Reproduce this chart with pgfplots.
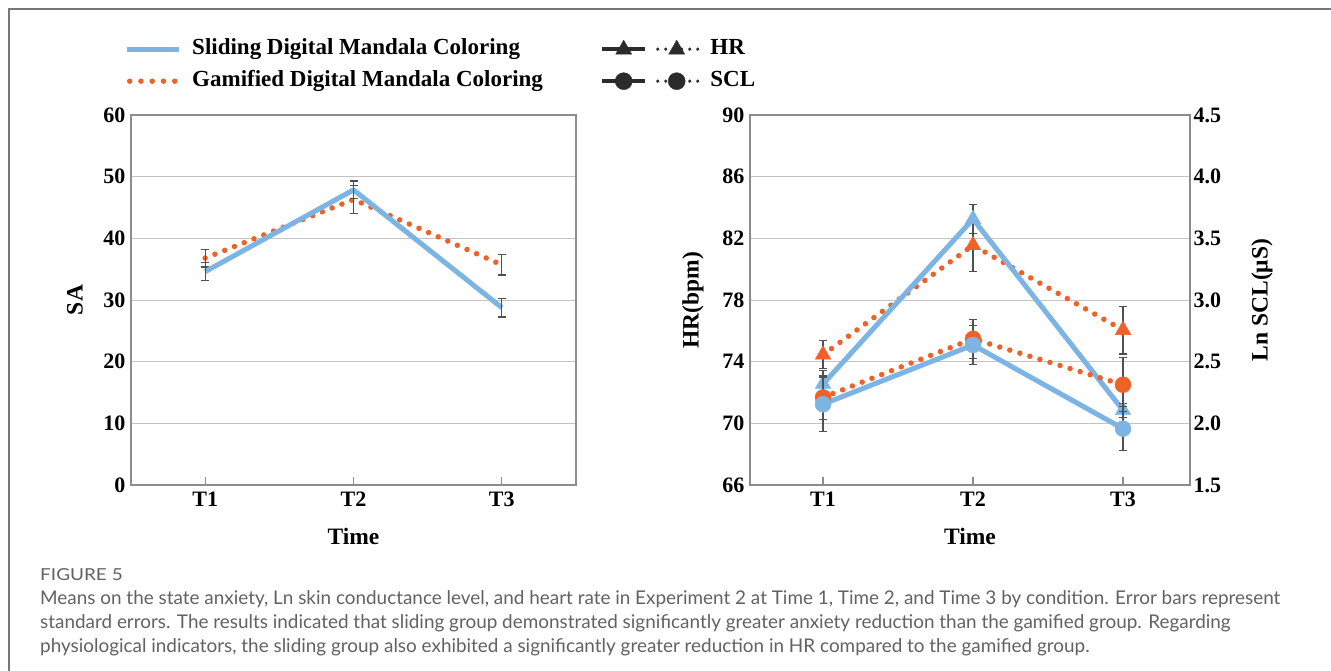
\documentclass[border=0pt]{standalone}
\usepackage{fontspec}
\setmainfont{Liberation Serif}
\newfontfamily\capfont{Lato}
\newfontfamily\figfont[FakeStretch=1.15]{Lato}
\usepackage{pgfplots}
\pgfplotsset{compat=1.18}
\definecolor{sblue}{HTML}{7CB5E4}
\definecolor{gorange}{HTML}{EE6128}
\definecolor{ebar}{HTML}{505050}
\definecolor{gridc}{HTML}{C4C4C4}
\definecolor{framec}{HTML}{8C8C8C}
\definecolor{legdark}{HTML}{2B2B2B}
\definecolor{capgray}{HTML}{626262}
\definecolor{borderc}{HTML}{76767C}

\pgfplotsset{
  mystyle/.style={
    scale only axis,
    xmin=0.5, xmax=3.5, xtick={1,2,3}, xticklabels={T1,T2,T3},
    axis line style={framec, line width=1.2pt},
    ymajorgrids, grid style={gridc, line width=1pt},
    xtick style={framec, line width=1.2pt},
    ytick style={draw=none},
    tick align=inside,
    major tick length=8pt,
    ticklabel style={font=\fontsize{22}{26}\selectfont\bfseries},
    xticklabel style={yshift=-3pt},
    label style={font=\fontsize{23.5}{28}\selectfont\bfseries},
    /pgf/number format/assume math mode=true,
  },
  sline/.style={sblue, line width=5pt, line join=round, mark=none},
  gline/.style={gorange, line width=5.5pt, line cap=round, line join=round, dash pattern=on 0pt off 10.5pt, mark=none},
  ebars/.style={
    /pgfplots/error bars/y dir=both,
    /pgfplots/error bars/y explicit,
    /pgfplots/error bars/error bar style={ebar, line width=1.2pt, solid, line cap=butt},
    /pgfplots/error bars/error mark options={ebar, rotate=90, mark size=4pt, line width=1.2pt, solid},
  },
}

\begin{document}
\begin{tikzpicture}
\path[use as bounding box] (0,0) rectangle (1331pt,-671pt);
\fill[white] (0,0) rectangle (1331pt,-671pt);
\draw[borderc, line width=2pt] (9pt,-671pt) -- (9pt,-9pt) -- (1331pt,-9pt);

% ---------------- Left: SA ----------------
\begin{axis}[mystyle, at={(131pt,-485pt)}, anchor=south west,
  width=445pt, height=370pt,
  ymin=0, ymax=60, ytick={0,10,...,60}, xtick pos=left,
  yticklabel style={xshift=-2pt},
  xlabel={Time}, ylabel={SA},
  xlabel style={at={(axis description cs:0.5,-0.1378)}, anchor=center},
  ylabel style={at={(axis description cs:-0.1258,0.5)}, anchor=center},
  legend columns=2,
  legend cell align=left,
  legend style={at={(axis description cs:-0.0157,1.2068)}, anchor=north west,
    draw=none, fill=none, inner sep=0pt, row sep=11pt,
    font=\fontsize{23}{27}\selectfont\bfseries,
    nodes={inner sep=0pt, text height=16pt, text depth=5pt},
    /tikz/every odd column/.append style={column sep=11pt},
    /tikz/every even column/.append style={column sep=57pt}},
]
\addplot[gline, ebars, forget plot] table[x=x, y=y, y error=e] {
x y e
1 36.8 1.45
2 46.3 2.3
3 35.7 1.65
};
\addplot[sline, ebars, forget plot] table[x=x, y=y, y error=e] {
x y e
1 34.6 1.45
2 47.85 1.45
3 28.76 1.5
};
\addlegendimage{legend image code/.code={\draw[sblue, line width=5pt] (0pt,0pt) -- (52pt,0pt);}}
\addlegendentry{Sliding Digital Mandala Coloring}
\addlegendimage{legend image code/.code={
  \draw[legdark, line width=3.5pt] (0pt,0pt) -- (43pt,0pt);
  \fill[legdark] (14pt,-5pt) -- (30pt,-5pt) -- (22pt,9pt) -- cycle;
  \draw[legdark, line width=3.5pt, line cap=round, dash pattern=on 0pt off 8pt] (56pt,0pt) -- (96pt,0pt);
  \fill[legdark] (67pt,-5pt) -- (83pt,-5pt) -- (75pt,9pt) -- cycle;}}
\addlegendentry{HR}
\addlegendimage{legend image code/.code={\draw[gorange, line width=5.5pt, line cap=round, dash pattern=on 0pt off 11.25pt] (3pt,0pt) -- (48pt,0pt);}}
\addlegendentry{Gamified Digital Mandala Coloring}
\addlegendimage{legend image code/.code={
  \draw[legdark, line width=3.5pt] (0pt,0pt) -- (43pt,0pt);
  \fill[legdark] (22pt,0pt) circle (8.5pt);
  \draw[legdark, line width=3.5pt, line cap=round, dash pattern=on 0pt off 8pt] (56pt,0pt) -- (96pt,0pt);
  \fill[legdark] (75pt,0pt) circle (8.5pt);}}
\addlegendentry{SCL}
\end{axis}

% ---------------- Right: HR ----------------
\begin{axis}[mystyle, at={(750pt,-485pt)}, anchor=south west,
  width=440pt, height=370pt, xmin=0.513, xmax=3.447,
  ymin=66, ymax=90, ytick={66,70,74,78,82,86,90}, xtick pos=left, ytick pos=left,
  yticklabel style={xshift=-2pt},
  xlabel={Time}, ylabel={HR(bpm)},
  xlabel style={at={(axis description cs:0.5,-0.1378)}, anchor=center},
  ylabel style={at={(axis description cs:-0.1295,0.5)}, anchor=center},
]
\addplot[gline, ebars, mark=triangle*, mark size=9pt, mark options={solid, fill=gorange, draw=gorange, line width=0.4pt}] table[x=x, y=y, y error=e] {
x y e
1 74.45 0.9
2 81.55 1.7
3 76.05 1.55
};
\addplot[sline, ebars, mark=triangle*, mark size=9pt, mark options={solid, fill=sblue, draw=sblue, line width=0.4pt}] table[x=x, y=y, y error=e] {
x y e
1 72.55 0.9
2 83.25 0.95
3 70.85 0.45
};
\end{axis}

% ---------------- Right: Ln SCL ----------------
\begin{axis}[mystyle, at={(750pt,-485pt)}, anchor=south west,
  width=440pt, height=370pt, xmin=0.513, xmax=3.447,
  ymin=1.5, ymax=4.5, ytick={1.5,2,2.5,3,3.5,4,4.5},
  axis y line*=right, axis x line=none, ymajorgrids=false,
  yticklabel style={/pgf/number format/.cd, fixed, fixed zerofill, precision=1},
  ylabel={Ln SCL(μS)},
  ylabel style={at={(axis description cs:1.1636,0.5)}, anchor=center},
]
\addplot[gline, ebars, mark=*, mark size=8pt, mark options={solid, fill=gorange, draw=gorange, line width=0.4pt}] table[x=x, y=y, y error=e] {
x y e
1 2.21 0.18
2 2.685 0.16
3 2.313 0.22
};
\addplot[sline, ebars, mark=*, mark size=8pt, mark options={solid, fill=sblue, draw=sblue, line width=0.4pt}] table[x=x, y=y, y error=e] {
x y e
1 2.155 0.22
2 2.635 0.16
3 1.957 0.18
};
\end{axis}

% ---------------- Caption ----------------
\node[anchor=base west, inner sep=0pt, text=capgray, font=\figfont\fontsize{16.5}{20}\selectfont] at (40pt,-580pt) {FIGURE 5};
\begin{scope}[every node/.style={anchor=base west, inner sep=0pt, text=capgray, font=\capfont\fontsize{18.9}{23}\selectfont}]
\node at (40pt,-604pt) {Means on the state anxiety, Ln skin conductance level, and heart rate in Experiment 2 at Time 1, Time 2, and Time 3 by condition. Error bars represent};
\node at (40pt,-628pt) {standard errors. The results indicated that sliding group demonstrated significantly greater anxiety reduction than the gamified group. Regarding};
\node at (40pt,-652pt) {physiological indicators, the sliding group also exhibited a significantly greater reduction in HR compared to the gamified group.};
\end{scope}
\end{tikzpicture}
\end{document}
